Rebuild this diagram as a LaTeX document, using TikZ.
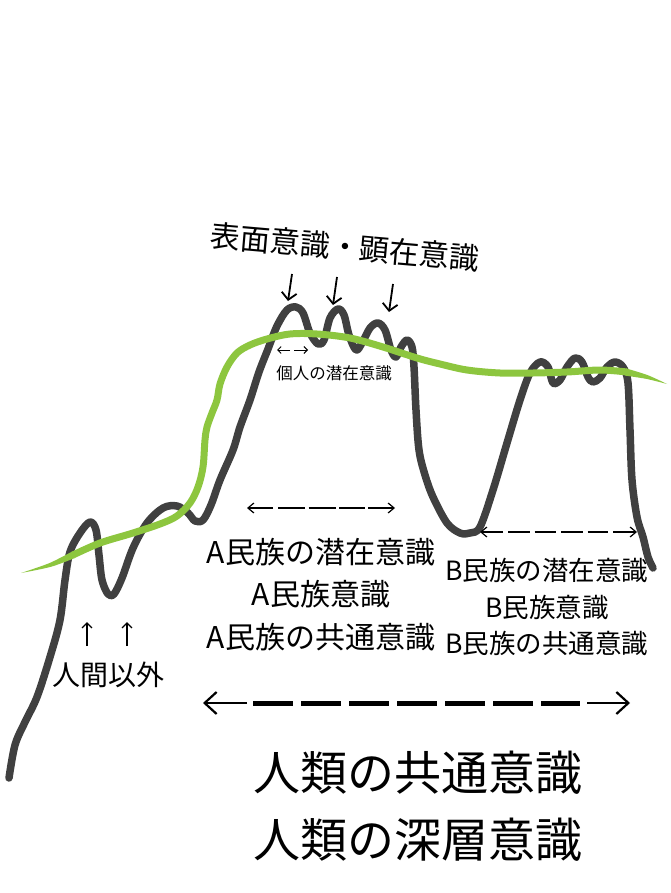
\documentclass[tikz,border=0pt]{standalone}
\usepackage{fontspec}
\setmainfont{Noto Sans CJK JP}
\usetikzlibrary{arrows.meta}
\definecolor{curvegray}{RGB}{64,64,64}
\definecolor{leafgreen}{RGB}{141,198,63}
\begin{document}
\begin{tikzpicture}[x=1pt,y=-1pt,
  graycurve/.style={draw=curvegray, line width=7.5pt, line cap=round, line join=round},
  greencurve/.style={draw=leafgreen, line width=7pt, line cap=round, line join=round},
  greentip/.style={fill=leafgreen},
  downarrow/.style={draw=black, line width=1.8pt, -{Straight Barb[length=7pt,width=15pt,line width=1.8pt]}},
  uparrow/.style={draw=black, line width=1.3pt, -{Straight Barb[length=5pt,width=10pt,line width=1.3pt]}},
  tinyarrow/.style={draw=black, line width=0.9pt, -{Straight Barb[length=3.5pt,width=7pt,line width=0.9pt]}},
  midhead/.style={draw=black, line width=1.2pt, -{Straight Barb[length=6pt,width=10pt,line width=1.2pt]}},
  middash/.style={draw=black, line width=2.8pt, dash pattern=on 24pt off 6pt},
  bighead/.style={draw=black, line width=2.2pt, -{Straight Barb[length=12pt,width=22pt,line width=2.2pt]}},
  bigdash/.style={draw=black, line width=5pt, dash pattern=on 40pt off 8pt},
  lbl/.style={inner sep=0pt, text=black}
]
\useasboundingbox (0,0) rectangle (670,893);

% gray mountain curve
\draw[graycurve] plot[smooth, tension=0.55] coordinates {
(9,778) (15,745) (25,722) (37,697) (50,657) (60,620) (65,580) (70,552) (80,533) (90,522)
(96,530) (99,555) (102,580) (108,594) (114,594) (122,578) (133,548) (147,523) (163,508)
(177,506) (188,513) (195,521) (203,520) (211,505) (220,480) (233,450) (240,427) (250,400)
(259,372) (268,349) (277,326) (287,310) (296,307) (303,313) (310,333) (318,344) (324,340)
(330,318) (338,309) (344,315) (349,335) (356,350) (362,343) (370,328) (378,323) (385,330)
(391,350) (396,357) (401,347) (407,340) (412,347) (414,367) (416,410) (419,450) (425,475)
(433,497) (447,523) (460,533) (470,533) (480,527) (493,490) (507,443) (520,400) (530,373)
(540,362) (548,367) (553,383) (560,380) (567,367) (575,358) (582,362) (588,377) (593,382)
(600,378) (607,367) (615,362) (623,367) (628,383) (630,430) (632,480) (637,517) (643,537)
(648,557) (653,568)};

% green curve (main body)
\draw[greencurve, line cap=butt] plot[smooth, tension=0.55] coordinates {
(73,555) (100,543) (133,533) (160,524) (177,516) (190,503) (198,487) (203,467) (205,440)
(207,427) (212,413) (217,400) (220,384) (227,367) (237,353) (250,345) (267,339)
(290,334) (317,334) (350,338) (383,347) (417,358) (440,364) (467,370) (500,373) (533,373)
(567,372) (600,370) (627,372)};
% tapered ends
\fill[greentip] plot[smooth] coordinates {(21,573) (49.4,563.1) (71.6,551.8)} --
  (73.5,551.6) -- (74.6,558.4) -- plot[smooth] coordinates {(74.4,558.2) (50.6,566.9) (21,573)} -- cycle;
\fill[greentip] plot[smooth] coordinates {(626,368.4) (647.6,375.1) (667,384)} --
  plot[smooth] coordinates {(667,384) (646.4,378.9) (625,375.6)} -- cycle;

% top title
\node[lbl, rotate=-5, font=\fontsize{30}{36}\selectfont] (title) at (345,247) {表面意識・顕在意識};

% down arrows
\coordinate (d1s) at (292,274); \coordinate (d1e) at (288,301);
\coordinate (d2s) at (337,277); \coordinate (d2e) at (333,305);
\coordinate (d3s) at (393,284); \coordinate (d3e) at (389,312);
\draw[downarrow] (d1s) -- (d1e);
\draw[downarrow] (d2s) -- (d2e);
\draw[downarrow] (d3s) -- (d3e);

% individual subconscious
\coordinate (ia0) at (290,350); \coordinate (ia1) at (277,350);
\coordinate (ib0) at (294,350); \coordinate (ib1) at (308,350);
\draw[tinyarrow] (ia0) -- (ia1);
\draw[tinyarrow] (ib0) -- (ib1);
\node[lbl, font=\fontsize{16.5}{20}\selectfont] (indiv) at (334,373) {個人の潜在意識};

% non-human
\coordinate (u1s) at (87,646); \coordinate (u1e) at (87,622);
\coordinate (u2s) at (127,646); \coordinate (u2e) at (127,622);
\draw[uparrow] (u1s) -- (u1e);
\draw[uparrow] (u2s) -- (u2e);
\node[lbl, font=\fontsize{28}{32}\selectfont] (nonhuman) at (108,675) {人間以外};

% A arrow
\coordinate (aL0) at (273,508); \coordinate (aL1) at (247,508);
\coordinate (aD0) at (278,508); \coordinate (aD1) at (365,508);
\coordinate (aR0) at (368,508); \coordinate (aR1) at (395,508);
\draw[midhead] (aL0) -- (aL1);
\draw[middash, dash pattern=on 27pt off 3.5pt] (aD0) -- (aD1);
\draw[midhead] (aR0) -- (aR1);

% A text
\node[lbl, font=\fontsize{30}{36}\selectfont] (a1) at (321,552) {A民族の潜在意識};
\node[lbl, font=\fontsize{30}{36}\selectfont] (a2) at (321,594) {A民族意識};
\node[lbl, font=\fontsize{30}{36}\selectfont] (a3) at (321,637) {A民族の共通意識};

% B arrow
\coordinate (bL0) at (503,532); \coordinate (bL1) at (480,532);
\coordinate (bD0) at (508,532); \coordinate (bD1) at (608,532);
\coordinate (bR0) at (613,532); \coordinate (bR1) at (637,532);
\draw[midhead] (bL0) -- (bL1);
\draw[middash, dash pattern=on 21.5pt off 5pt] (bD0) -- (bD1);
\draw[midhead] (bR0) -- (bR1);

% B text
\node[lbl, font=\fontsize{26.5}{32}\selectfont] (b1) at (547,570) {B民族の潜在意識};
\node[lbl, font=\fontsize{26.5}{32}\selectfont] (b2) at (547,607) {B民族意識};
\node[lbl, font=\fontsize{26.5}{32}\selectfont] (b3) at (547,643) {B民族の共通意識};

% big arrow
\coordinate (hL0) at (247,703); \coordinate (hL1) at (203,703);
\coordinate (hD0) at (253,703); \coordinate (hD1) at (580,703);
\coordinate (hR0) at (587,703); \coordinate (hR1) at (630,703);
\draw[bighead] (hL0) -- (hL1);
\draw[bigdash] (hD0) -- (hD1);
\draw[bighead] (hR0) -- (hR1);

% bottom text
\node[lbl, font=\fontsize{47}{56}\selectfont] (h1) at (418,773) {人類の共通意識};
\node[lbl, font=\fontsize{47}{56}\selectfont] (h2) at (418,840) {人類の深層意識};
\end{tikzpicture}
\end{document}
